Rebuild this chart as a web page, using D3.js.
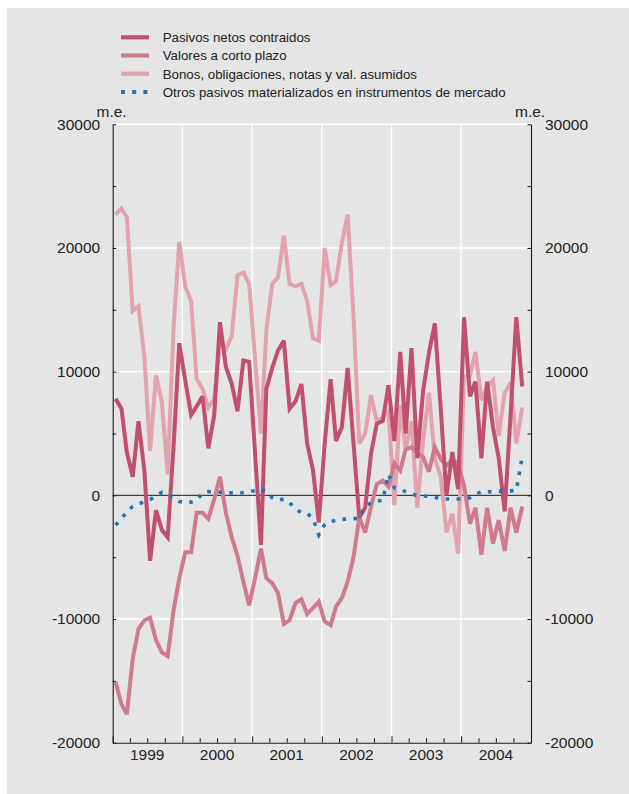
<!DOCTYPE html>
<html><head><meta charset="utf-8">
<script src="https://cdn.jsdelivr.net/npm/d3@7"></script>
<style>
body{margin:0;background:#fff}
svg{display:block;font-family:"Liberation Sans",Arial,sans-serif}
</style>
</head><body>
<svg id="c" width="629" height="794"></svg>
<script>
// ---- data (monthly, Jan 1999 .. Nov 2004), millions of euros ----
const startYear = 1999;
const nMonths = 71;
const pasivos = [7800,7000,3500,1500,6000,2000,-5300,-1200,-2800,-3400,4000,12300,
  9300,6500,7200,8000,3800,6500,14000,10400,9000,6800,10900,10800,
  3400,-4000,8600,10300,11700,12500,7000,7600,9000,4200,2000,-2200,
  4200,9400,4400,5500,10300,4200,-1800,-1000,3400,5800,6000,8900,
  4400,11600,5000,11900,3000,8500,11500,13900,7000,0,3500,500,
  14400,8000,9200,3000,9200,5500,3000,-1300,6500,14400,8800];
const valores = [-15100,-16900,-17700,-13200,-10800,-10100,-9900,-11700,-12700,-13000,-9300,-6700,
  -4600,-4600,-1400,-1400,-1900,-300,1500,-1400,-3400,-4900,-7000,-8900,
  -6700,-4300,-6700,-7100,-7900,-10400,-10100,-8700,-8400,-9600,-9100,-8600,
  -10200,-10500,-9000,-8300,-7000,-5000,-1800,-3000,-900,900,1200,700,
  2600,2000,3700,3900,3400,3100,1900,3900,2900,2400,2900,2500,
  800,-2300,-1000,-4800,-1000,-3900,-2000,-4500,-1000,-3000,-900];
const bonos = [22700,23200,22500,14900,15300,11200,3600,9700,7500,1700,13600,20500,
  16900,15700,9400,8600,7100,7800,12400,11800,12900,17800,18000,17100,
  11000,5000,13300,17100,17600,21000,17100,16900,17100,15700,12700,12500,
  20000,17000,17300,20400,22700,14500,4200,5000,8100,6000,6300,6800,
  -800,7300,3700,6000,-1000,4500,8300,3000,1500,-3000,-1500,-4700,
  9600,9700,11600,7700,8800,9300,4800,8300,9100,4200,7100];
const otros = [-2400,-1900,-1300,-900,-700,-500,-350,-50,250,100,-200,-500,
  -600,-550,-400,200,300,300,250,200,200,200,220,250,
  400,500,300,-200,-400,-300,-600,-1100,-1400,-1450,-1900,-3200,
  -2350,-2150,-2000,-1950,-1900,-1880,-1850,-900,-600,-450,-400,1700,
  600,450,300,100,0,-50,-100,-180,-250,-300,-300,-300,
  -300,-200,100,290,290,290,320,350,360,400,3100];
const yearLabels = ["1999","2000","2001","2002","2003","2004"];
const yTickValues = [-20000,-15000,-10000,-5000,0,5000,10000,15000,20000,25000,30000];
const yGrid = [-10000,10000,20000,30000];
const seriesNames = ["Pasivos netos contraidos","Valores a corto plazo",
  "Bonos, obligaciones, notas y val. asumidos","Otros pasivos materializados en instrumentos de mercado"];
const seriesColors = ["#c0506e","#d07b8b","#e2a3ac","#1a76bd"];

// ---- chart ----
const svg = d3.select("#c");
const W = 629, H = 794;
svg.append("rect").attr("x",7).attr("y",8).attr("width",W-7).attr("height",H-8).attr("fill","#e5e5e5");

const dates = d3.range(nMonths).map(i => new Date(startYear, i, 16));
const x = d3.scaleTime().domain([new Date(startYear,0,1), new Date(startYear+6,0,1)]).range([112.7, 531]);
const y = d3.scaleLinear().domain([-20000,30000]).range([742.7,124.3]);
const [x0,x1] = x.range();
const [y0,y1] = y.range();

// gridlines
svg.append("g").selectAll("line").data(yGrid).join("line")
  .attr("x1",x0).attr("x2",x1).attr("y1",d=>y(d)).attr("y2",d=>y(d))
  .attr("stroke","#fff").attr("stroke-width",1.4);
const yearStarts = yearLabels.slice(1).map(s => new Date(+s,0,1));
svg.append("g").selectAll("line").data(yearStarts).join("line")
  .attr("x1",d=>x(d)).attr("x2",d=>x(d)).attr("y1",y1).attr("y2",y0)
  .attr("stroke","#fff").attr("stroke-width",1.4);

// axes
const fmt = d => (d % 10000 === 0) ? String(d) : "";
const gl = svg.append("g").attr("transform",`translate(${x0},0)`)
  .call(d3.axisLeft(y).tickValues(yTickValues).tickSize(-3.5).tickSizeOuter(0).tickPadding(12.5).tickFormat(fmt));
const gr = svg.append("g").attr("transform",`translate(${x1},0)`)
  .call(d3.axisRight(y).tickValues(yTickValues).tickSize(-3.5).tickSizeOuter(0).tickPadding(14).tickFormat(fmt));
const gb = svg.append("g").attr("transform",`translate(0,${y0})`)
  .call(d3.axisBottom(x).ticks(d3.timeMonth.every(3)).tickSize(-4.5).tickSizeOuter(0).tickFormat(""));
[gl,gr,gb].forEach(g => {
  g.select(".domain").attr("stroke","#1a1a1a").attr("stroke-width",1.1);
  g.selectAll(".tick line").attr("stroke","#1a1a1a").attr("stroke-width",1);
  g.selectAll("text").attr("font-size","15.5px").attr("fill","#222").attr("font-family","Liberation Sans, Arial, sans-serif");
});
gb.selectAll(".tick line").attr("y2", d => d.getMonth()===0 ? -6.5 : -4.5);

// year labels
svg.append("g").selectAll("text").data(yearLabels).join("text")
  .attr("x", d => x(new Date(+d,6,1))).attr("y",760)
  .attr("text-anchor","middle").attr("font-size","15.5px").attr("fill","#222").text(d=>d);

// units
svg.append("text").attr("x",96.5).attr("y",117).attr("font-size","15.5px").attr("fill","#222").text("m.e.");
svg.append("text").attr("x",515).attr("y",117).attr("font-size","15.5px").attr("fill","#222").text("m.e.");

// zero line
svg.append("line").attr("x1",x0).attr("x2",x1).attr("y1",y(0)).attr("y2",y(0))
  .attr("stroke","#1a1a1a").attr("stroke-width",1);

// series (light drawn first, dark on top, dotted last)
const line = d3.line().x((d,i)=>x(dates[i])).y(d=>y(d)).curve(d3.curveLinear);
const allSeries = [pasivos, valores, bonos, otros];
const drawOrder = [2, 1, 0, 3];
drawOrder.forEach(k => {
  const s = allSeries[k];
  const p = svg.append("path").datum(s).attr("d",line).attr("fill","none")
    .attr("stroke",seriesColors[k]).attr("stroke-linejoin","miter").attr("stroke-miterlimit",3);
  if (k === 3) p.attr("stroke-width",3.6).attr("stroke-dasharray","3.6,7.4");
  else p.attr("stroke-width",4);
});

// legend
const lg = svg.append("g");
const rowY = [37.3, 55.5, 73.7, 91.9];
seriesNames.forEach((name,k) => {
  const l = lg.append("line").attr("x1",121).attr("x2",149).attr("y1",rowY[k]).attr("y2",rowY[k])
    .attr("stroke",seriesColors[k]);
  if (k === 3) l.attr("stroke-width",4).attr("stroke-dasharray","4,7.2");
  else l.attr("stroke-width",4.2);
  lg.append("text").attr("x",162.7).attr("y",rowY[k]+4.8).attr("font-size","13.3px").attr("fill","#222").text(name);
});
</script>
</body></html>
